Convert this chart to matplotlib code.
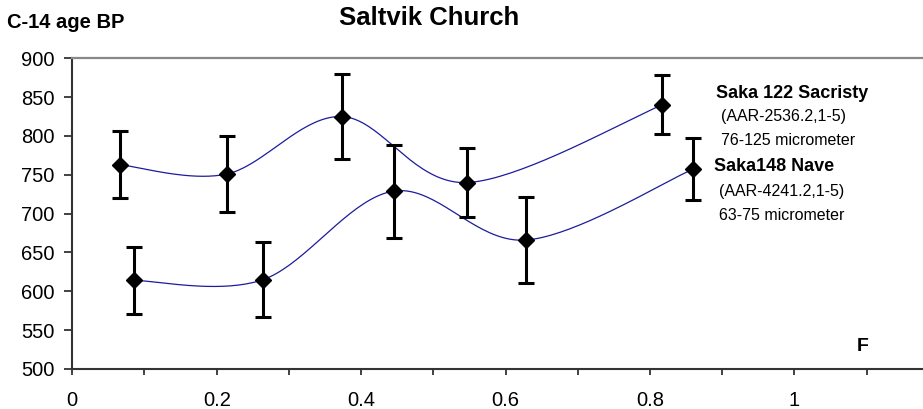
import numpy as np
import matplotlib
matplotlib.use('Agg')
import matplotlib.pyplot as plt
from matplotlib.ticker import MultipleLocator

plt.rc('font', family=['Liberation Sans', 'DejaVu Sans'])

# Saka 122 Sacristy
sac_f = [0.066, 0.214, 0.373, 0.546, 0.817]
sac_age = [763, 751, 825, 740, 840]
sac_err = [43, 49, 55, 44, 38]

# Saka148 Nave
nave_f = [0.086, 0.264, 0.445, 0.628, 0.859]
nave_age = [614, 615, 729, 666, 757]
nave_err = [43, 48, 60, 55, 40]


# Excel style smoothed line (Catmull-Rom through the points)
def smooth(x, y, n=40):
    x = np.asarray(x, float)
    y = np.asarray(y, float)
    px = np.concatenate([[x[0]], x, [x[-1]]])
    py = np.concatenate([[y[0]], y, [y[-1]]])
    xs, ys = [], []
    for i in range(1, len(px) - 2):
        p0 = np.array([px[i], py[i]])
        p3 = np.array([px[i + 1], py[i + 1]])
        c1 = p0 + (p3 - np.array([px[i - 1], py[i - 1]])) / 6.0
        c2 = p3 - (np.array([px[i + 2], py[i + 2]]) - p0) / 6.0
        t = np.linspace(0, 1, n)[:, None]
        b = (1 - t) ** 3 * p0 + 3 * (1 - t) ** 2 * t * c1 + 3 * (1 - t) * t ** 2 * c2 + t ** 3 * p3
        xs.extend(b[:, 0])
        ys.extend(b[:, 1])
    return xs, ys


fig = plt.figure(figsize=(9.23, 4.09), dpi=100)
ax = fig.add_axes([0.0783, 0.0978, 0.9217, 0.7597])

for fx, age, err in [(sac_f, sac_age, sac_err), (nave_f, nave_age, nave_err)]:
    sx, sy = smooth(fx, age)
    ax.plot(sx, sy, color='#1c1c9c', lw=0.9, zorder=2)
    ax.errorbar(fx, age, yerr=err, fmt='none', ecolor='black', elinewidth=2.2,
                capsize=5.5, capthick=2.2, zorder=3)
    ax.plot(fx, age, 'D', color='black', markersize=8.5, zorder=4)

ax.set_xlim(0, 1.178)
ax.set_ylim(500, 900)
ax.xaxis.set_minor_locator(MultipleLocator(0.1))
ax.yaxis.set_major_locator(MultipleLocator(50))
ax.set_xticks([0, 0.2, 0.4, 0.6, 0.8, 1.0])
ax.set_xticklabels(['0', '0.2', '0.4', '0.6', '0.8', '1'])
ax.tick_params(axis='both', direction='out', width=1.3, color='#333333', labelsize=14.5)
ax.tick_params(axis='y', length=6, pad=7)
ax.tick_params(axis='x', length=4, pad=12)
ax.tick_params(axis='x', which='minor', direction='out', length=4, width=1.3, color='#333333')

ax.spines['right'].set_visible(False)
ax.spines['top'].set_color('#888888')
ax.spines['top'].set_linewidth(1.6)
for s in ['left', 'bottom']:
    ax.spines[s].set_color('#333333')
    ax.spines[s].set_linewidth(1.5)

fig.text(7 / 923, 1 - 22 / 409, 'C-14 age BP', fontsize=14.5, fontweight='bold', va='center')
fig.text(429 / 923, 1 - 18 / 409, 'Saltvik Church', fontsize=18.5, fontweight='bold',
         va='center', ha='center')

ax.text(0.891, 855, 'Saka 122 Sacristy', fontsize=13, fontweight='bold', va='center')
ax.text(0.898, 825, '(AAR-2536.2,1-5)', fontsize=11.5, va='center')
ax.text(0.898, 794, '76-125 micrometer', fontsize=11.5, va='center')
ax.text(0.889, 761, 'Saka148 Nave', fontsize=13, fontweight='bold', va='center')
ax.text(0.895, 729, '(AAR-4241.2,1-5)', fontsize=11.5, va='center')
ax.text(0.895, 698, '63-75 micrometer', fontsize=11.5, va='center')
ax.text(1.095, 529, 'F', fontsize=14, fontweight='bold', va='center', ha='center')

plt.savefig('out.png', dpi=100)
